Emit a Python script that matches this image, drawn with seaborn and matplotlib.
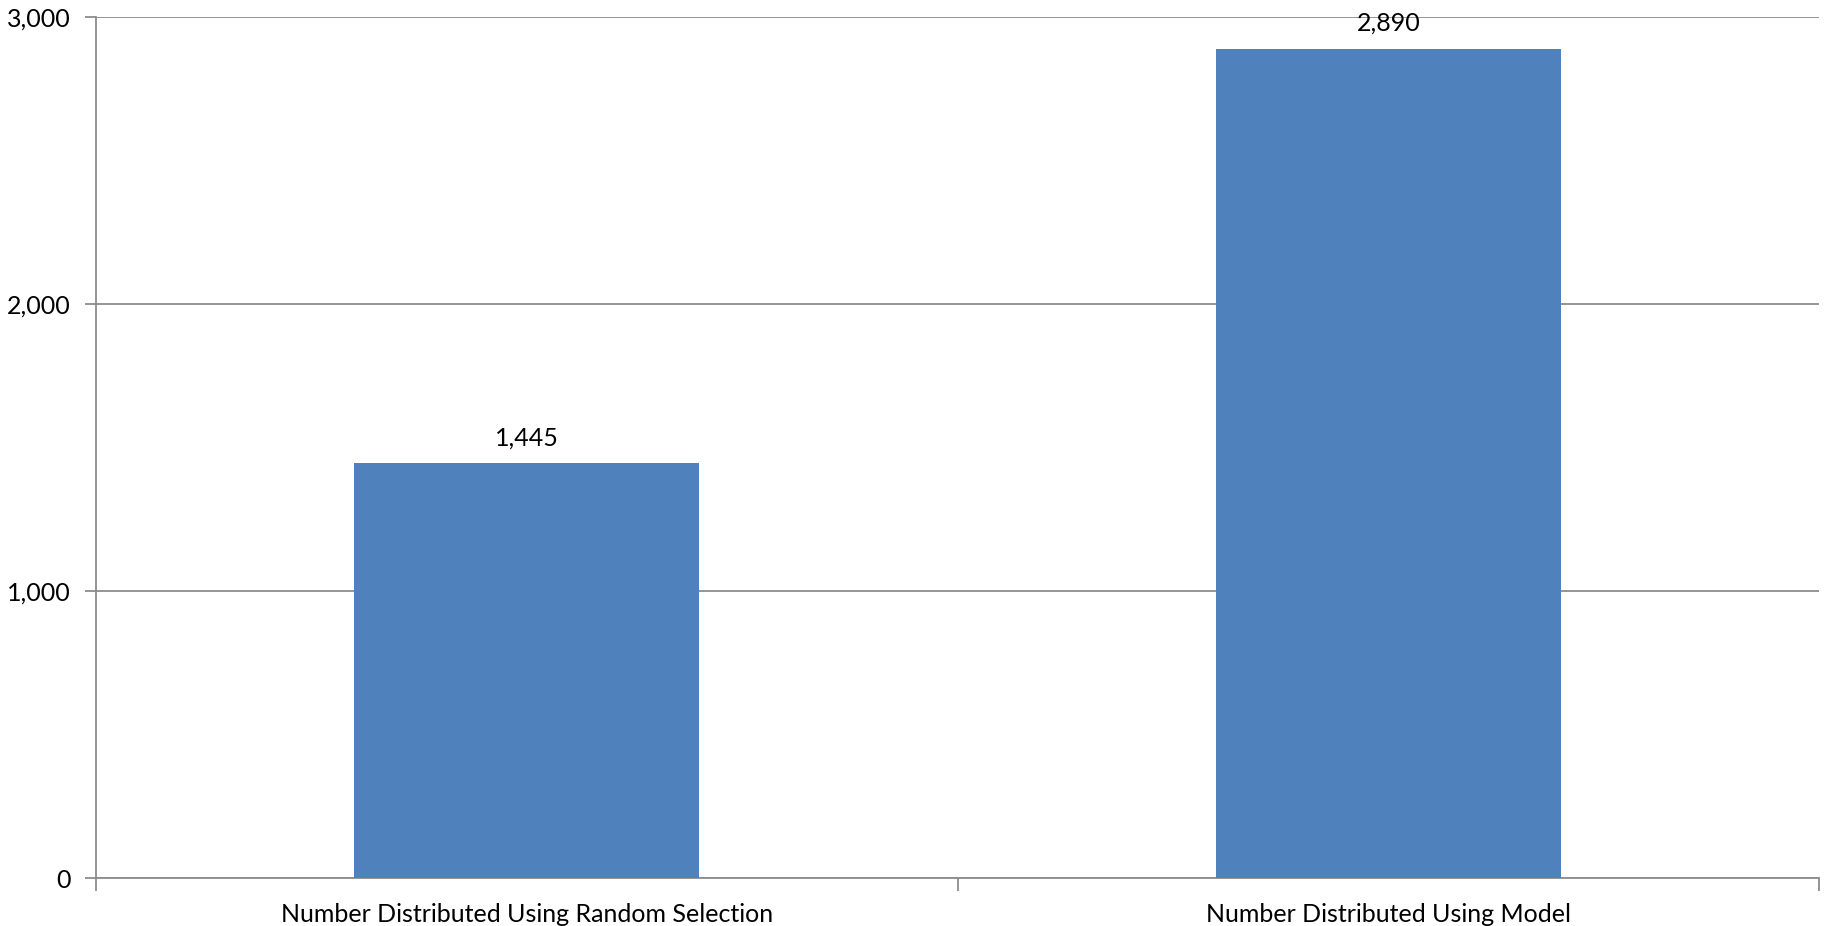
import matplotlib
matplotlib.use("Agg")
import matplotlib.pyplot as plt
import seaborn as sns
import pandas as pd
from matplotlib.ticker import FuncFormatter, FixedLocator

categories = ["Number Distributed Using Random Selection", "Number Distributed Using Model"]
values = [1445, 2890]
yticks = [0, 1000, 2000, 3000]

sns.set_theme(style="white")
plt.rcParams['font.family'] = ['Lato', 'DejaVu Sans']

df = pd.DataFrame({"category": categories, "value": values})

W, H = 1825, 926
fig = plt.figure(figsize=(W / 100, H / 100), dpi=100)
ax = fig.add_axes([96 / W, 1 - 878 / H, (1819 - 96) / W, (878 - 17) / H])

sns.barplot(data=df, x="category", y="value", color="#4F81BD", width=0.4,
            saturation=1, ax=ax, zorder=3, linewidth=0, edgecolor="none")

ax.set_xlim(-0.5, 1.5)
ax.set_ylim(0, 3000)
ax.yaxis.set_major_locator(FixedLocator(yticks))
ax.yaxis.set_major_formatter(FuncFormatter(lambda v, p: f"{int(v):,}"))
ax.grid(axis="y", color="#8C8C8C", linewidth=1.3, zorder=0)
ax.set_axisbelow(True)

for s in ["top", "right"]:
    ax.spines[s].set_visible(False)
for s in ["left", "bottom"]:
    ax.spines[s].set_color("#8C8C8C")
    ax.spines[s].set_linewidth(1.3)

ax.set_xlabel("")
ax.set_ylabel("")
ax.tick_params(axis="y", which="both", left=True, length=8, width=1.3, color="#8C8C8C",
               labelsize=18, pad=10, labelcolor="black")
ax.tick_params(axis="x", which="major", bottom=False, labelsize=18, pad=12, labelcolor="black")
ax.set_xticks([0, 1])
ax.set_xticklabels(categories)
ax.set_xticks([-0.5, 0.5, 1.5], minor=True)
ax.tick_params(axis="x", which="minor", bottom=True, length=9, width=1.3, color="#8C8C8C")

for c in ax.containers:
    ax.bar_label(c, labels=[f"{int(v):,}" for v in values], padding=10, fontsize=18, color="black")

fig.savefig("out.png", dpi=100, facecolor="white")
